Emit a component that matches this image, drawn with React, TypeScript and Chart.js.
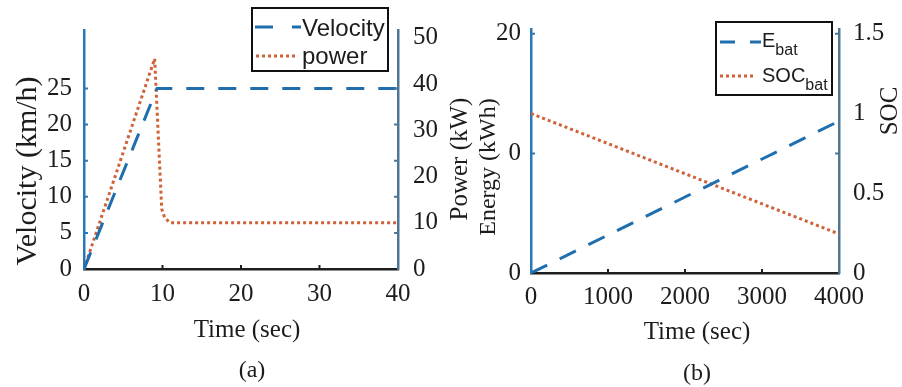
import React, { useEffect, useRef } from 'react';
import { Chart, registerables } from 'chart.js';

Chart.register(...registerables);

// ---------- data: panel (a) ----------
const timeVelocity = [0, 9.3, 40];
const velocity = [0, 25, 25];
const timePower = [0, 9.0, 9.9, 10.3, 11, 40];
const power = [0, 45.5, 13, 11, 10, 10];
const timeTicksA = [0, 10, 20, 30, 40];
const velocityTicks = [0, 5, 10, 15, 20, 25];
const powerTicks = [0, 10, 20, 30, 40, 50];

// ---------- data: panel (b) ----------
const timeBattery = [0, 4000];
const energyBat = [0, 12.7];
const socBat = [1.0, 0.245];
const timeTicksB = [0, 1000, 2000, 3000, 4000];
const energyTicks = [0, 10, 20];
const energyTickLabels = ['0', '0', '20'];
const socTicks = [0, 0.5, 1, 1.5];

// ---------- styles ----------
const SERIF = '"Liberation Serif", "Times New Roman", serif';
const SANS = '"Liberation Sans", Arial, sans-serif';
const TEXT = '#1c1c1c';
const BLUE = '#1f6fae';
const ORANGE = '#cf6238';
const AXIS_LEFT = '#2a78b5';
const AXIS_RIGHT = '#4f7694';
const AXIS_BOTTOM = '#1e1e1e';
const DASH = [18, 14];
const DOT = [3, 3];

type TextItem = { text: string; x: number; y: number; size: number; rotate?: boolean };
type LegendItem = {
  label: string; sub?: string; color: string; dash: number[];
  x1: number; x2: number; lineY: number; textX: number; baseline: number;
};
type LegendBox = { x: number; y: number; w: number; h: number; size: number; subSize: number; items: LegendItem[] };

function drawExtras(chart: any, dx: number, texts: TextItem[], legend: LegendBox) {
  const ctx: CanvasRenderingContext2D = chart.ctx;
  const a = chart.chartArea;
  const xs = chart.scales.x;
  const ys = chart.scales.y;
  ctx.save();
  // inward tick marks
  ctx.lineWidth = 2;
  ctx.strokeStyle = AXIS_LEFT;
  ctx.beginPath();
  for (const t of ys.ticks) {
    const p = ys.getPixelForValue(t.value);
    if (Math.abs(p - a.bottom) < 2) continue;
    ctx.moveTo(a.left, p); ctx.lineTo(a.left + 4, p);
  }
  ctx.stroke();
  ctx.strokeStyle = AXIS_RIGHT;
  ctx.beginPath();
  for (const t of ys.ticks) {
    const p = ys.getPixelForValue(t.value);
    if (Math.abs(p - a.bottom) < 2) continue;
    ctx.moveTo(a.right - 4, p); ctx.lineTo(a.right, p);
  }
  ctx.stroke();
  ctx.strokeStyle = AXIS_BOTTOM;
  ctx.beginPath();
  for (const t of xs.ticks) {
    if (t.value === xs.min || t.value === xs.max) continue;
    const p = xs.getPixelForValue(t.value);
    ctx.moveTo(p, a.bottom); ctx.lineTo(p, a.bottom - 4);
  }
  ctx.stroke();

  // titles / captions
  ctx.fillStyle = TEXT;
  ctx.textAlign = 'center';
  ctx.textBaseline = 'middle';
  for (const it of texts) {
    ctx.save();
    ctx.font = `${it.size}px ${SERIF}`;
    ctx.translate(it.x - dx, it.y);
    if (it.rotate) ctx.rotate(-Math.PI / 2);
    ctx.fillText(it.text, 0, 0);
    ctx.restore();
  }

  // legend
  ctx.fillStyle = '#ffffff';
  ctx.fillRect(legend.x - dx, legend.y, legend.w, legend.h);
  ctx.strokeStyle = '#111';
  ctx.lineWidth = 2;
  ctx.setLineDash([]);
  ctx.strokeRect(legend.x - dx, legend.y, legend.w, legend.h);
  for (const it of legend.items) {
    ctx.strokeStyle = it.color;
    ctx.lineWidth = 3;
    ctx.setLineDash(it.dash);
    ctx.beginPath();
    ctx.moveTo(it.x1 - dx, it.lineY);
    ctx.lineTo(it.x2 - dx, it.lineY);
    ctx.stroke();
    ctx.setLineDash([]);
    ctx.fillStyle = TEXT;
    ctx.textAlign = 'left';
    ctx.textBaseline = 'alphabetic';
    ctx.font = `${legend.size}px ${SANS}`;
    ctx.fillText(it.label, it.textX - dx, it.baseline);
    if (it.sub) {
      const w = ctx.measureText(it.label).width;
      ctx.font = `${legend.subSize}px ${SANS}`;
      ctx.fillText(it.sub, it.textX - dx + w, it.baseline + 8);
    }
  }
  ctx.restore();
}

function axisBase(color: string) {
  return {
    grid: { display: false, drawTicks: false, tickLength: 0 },
    border: { display: true, color, width: 2.5 },
  };
}

function fixedTicks(values: number[]) {
  return (scale: any) => {
    scale.ticks = values.map((v) => ({ value: v }));
  };
}

const plainLabel = (v: any) => String(v);

const LEFT_W = 475;
const RIGHT_X = 445;
const RIGHT_W = 457;
const H = 387;

export default function App() {
  const refA = useRef<HTMLCanvasElement>(null);
  const refB = useRef<HTMLCanvasElement>(null);

  useEffect(() => {
    const tickFont = { family: SERIF, size: 25 };

    const textsA: TextItem[] = [
      { text: 'Velocity (km/h)', x: 28, y: 171, size: 30, rotate: true },
      { text: 'Power (kW)', x: 460, y: 159, size: 25, rotate: true },
      { text: 'Time (sec)', x: 247, y: 330, size: 25 },
      { text: '(a)', x: 252, y: 371, size: 24 },
    ];
    const legendA: LegendBox = {
      x: 252, y: 8, w: 136, h: 63, size: 24, subSize: 16,
      items: [
        { label: 'Velocity', color: BLUE, dash: [18, 19], x1: 255, x2: 301, lineY: 27, textX: 302, baseline: 36 },
        { label: 'power', color: ORANGE, dash: DOT, x1: 256, x2: 296, lineY: 56, textX: 302, baseline: 64 },
      ],
    };

    const textsB: TextItem[] = [
      { text: 'Energy (kWh)', x: 489, y: 167, size: 24, rotate: true },
      { text: 'SOC', x: 890, y: 111, size: 25, rotate: true },
      { text: 'Time (sec)', x: 697, y: 332, size: 25 },
      { text: '(b)', x: 697, y: 374, size: 24 },
    ];
    const legendB: LegendBox = {
      x: 716, y: 22, w: 116, h: 73, size: 20, subSize: 16,
      items: [
        { label: 'E', sub: 'bat', color: BLUE, dash: [15, 15], x1: 720, x2: 761, lineY: 42, textX: 762, baseline: 47 },
        { label: 'SOC', sub: 'bat', color: ORANGE, dash: DOT, x1: 720, x2: 756, lineY: 76, textX: 762, baseline: 82 },
      ],
    };

    const chartA = new Chart(refA.current as HTMLCanvasElement, {
      type: 'line',
      data: {
        datasets: [
          {
            label: 'Velocity',
            data: timeVelocity.map((t, i) => ({ x: t, y: velocity[i] })),
            borderColor: BLUE,
            borderWidth: 3,
            borderDash: DASH,
            pointRadius: 0,
            yAxisID: 'y',
          },
          {
            label: 'power',
            data: timePower.map((t, i) => ({ x: t, y: power[i] })),
            borderColor: ORANGE,
            borderWidth: 3,
            borderDash: DOT,
            pointRadius: 0,
            yAxisID: 'y1',
          },
        ],
      },
      options: {
        responsive: false,
        animation: false,
        layout: { padding: { top: 20, left: 0, right: 0, bottom: 0 } },
        plugins: { legend: { display: false }, tooltip: { enabled: false } },
        scales: {
          x: {
            type: 'linear', position: 'bottom', min: 0, max: 40,
            ...axisBase(AXIS_BOTTOM),
            afterBuildTicks: fixedTicks(timeTicksA),
            afterFit: (s: any) => { s.height = H - 269; },
            ticks: { font: tickFont, color: TEXT, padding: 10, maxRotation: 0, autoSkip: false, callback: plainLabel },
          },
          y: {
            type: 'linear', position: 'left', min: 0, max: 33.1,
            ...axisBase(AXIS_LEFT),
            afterBuildTicks: fixedTicks(velocityTicks),
            afterFit: (s: any) => { s.width = 84; },
            ticks: { font: tickFont, color: TEXT, padding: 12, callback: plainLabel },
          },
          y1: {
            type: 'linear', position: 'right', min: 0, max: 51.7,
            ...axisBase(AXIS_RIGHT),
            afterBuildTicks: fixedTicks(powerTicks),
            afterFit: (s: any) => { s.width = LEFT_W - 398; },
            ticks: { font: tickFont, color: TEXT, padding: 15, callback: plainLabel },
          },
        },
      } as any,
      plugins: [{ id: 'extrasA', afterDraw: (c: any) => drawExtras(c, 0, textsA, legendA) }],
    });

    const chartB = new Chart(refB.current as HTMLCanvasElement, {
      type: 'line',
      data: {
        datasets: [
          {
            label: 'E_bat',
            data: timeBattery.map((t, i) => ({ x: t, y: energyBat[i] })),
            borderColor: BLUE,
            borderWidth: 3,
            borderDash: DASH,
            pointRadius: 0,
            yAxisID: 'y',
          },
          {
            label: 'SOC_bat',
            data: timeBattery.map((t, i) => ({ x: t, y: socBat[i] })),
            borderColor: ORANGE,
            borderWidth: 3,
            borderDash: DOT,
            pointRadius: 0,
            yAxisID: 'y1',
          },
        ],
      },
      options: {
        responsive: false,
        animation: false,
        layout: { padding: { top: 28, left: 0, right: 0, bottom: 0 } },
        plugins: { legend: { display: false }, tooltip: { enabled: false } },
        scales: {
          x: {
            type: 'linear', position: 'bottom', min: 0, max: 4000,
            ...axisBase(AXIS_BOTTOM),
            afterBuildTicks: fixedTicks(timeTicksB),
            afterFit: (s: any) => { s.height = H - 273; },
            ticks: { font: tickFont, color: TEXT, padding: 9, maxRotation: 0, autoSkip: false, callback: plainLabel },
          },
          y: {
            type: 'linear', position: 'left', min: 0, max: 20.4,
            ...axisBase(AXIS_LEFT),
            afterBuildTicks: fixedTicks(energyTicks),
            afterFit: (s: any) => { s.width = 531 - RIGHT_X; },
            ticks: {
              font: tickFont, color: TEXT, padding: 10,
              callback: (v: any) => {
                const i = energyTicks.indexOf(Number(v));
                return i >= 0 ? energyTickLabels[i] : '';
              },
            },
          },
          y1: {
            type: 'linear', position: 'right', min: 0, max: 1.53,
            ...axisBase(AXIS_RIGHT),
            afterBuildTicks: fixedTicks(socTicks),
            afterFit: (s: any) => { s.width = RIGHT_X + RIGHT_W - 839; },
            ticks: { font: tickFont, color: TEXT, padding: 14, callback: plainLabel },
          },
        },
      } as any,
      plugins: [{ id: 'extrasB', afterDraw: (c: any) => drawExtras(c, RIGHT_X, textsB, legendB) }],
    });

    return () => {
      chartA.destroy();
      chartB.destroy();
    };
  }, []);

  return (
    <div style={{ position: 'absolute', left: 0, top: 0, width: 902, height: H, background: '#fff', overflow: 'hidden' }}>
      <canvas ref={refA} width={LEFT_W} height={H} style={{ position: 'absolute', left: 0, top: 0, width: LEFT_W, height: H }} />
      <canvas ref={refB} width={RIGHT_W} height={H} style={{ position: 'absolute', left: RIGHT_X, top: 0, width: RIGHT_W, height: H }} />
    </div>
  );
}
